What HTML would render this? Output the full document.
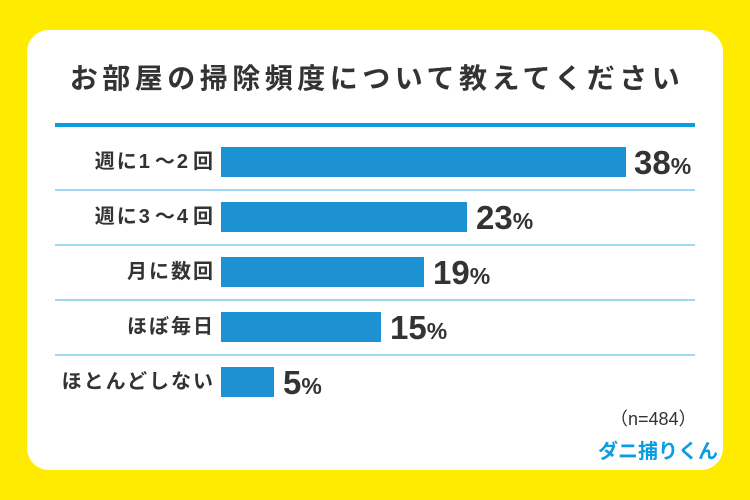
<!DOCTYPE html>
<html><head><meta charset="utf-8"><style>
body{margin:0;width:750px;height:500px;background:#FFEB00;position:relative;overflow:hidden;font-family:"Liberation Sans","Noto Sans CJK JP",sans-serif;}
.card{position:absolute;left:27px;top:30px;width:696px;height:440px;background:#fff;border-radius:22px;}
.t{position:absolute;left:2px;width:750px;top:57px;text-align:center;font-size:28px;font-weight:bold;color:#333;letter-spacing:4.5px;}
.top{position:absolute;left:55px;top:123px;width:640px;height:4px;background:#0a9de0;}
.sep{position:absolute;left:55px;width:640px;height:2px;background:#9dd9f5;}
.bar{position:absolute;left:221px;height:30px;background:#1d92d3;}
.lab{position:absolute;right:535px;font-size:20px;font-weight:bold;color:#333;line-height:30px;white-space:nowrap;letter-spacing:2px;}
.lab b{letter-spacing:5px;}
.v{position:absolute;font-size:33px;font-weight:bold;color:#333;line-height:30px;}
.v small{font-size:23px;}
</style></head><body>
<div class="card"></div>
<div class="t">お部屋の掃除頻度について教えてください</div>
<div class="top"></div>
<div class="sep" style="top:189px"></div>
<div class="sep" style="top:244px"></div>
<div class="sep" style="top:299px"></div>
<div class="sep" style="top:354px"></div>

<div class="lab" style="top:147px">週に<b>1</b>～<b>2</b>回</div>
<div class="bar" style="top:147px;width:405px"></div>
<div class="v" style="top:148px;left:634px">38<small>%</small></div>

<div class="lab" style="top:202px">週に<b>3</b>～<b>4</b>回</div>
<div class="bar" style="top:202px;width:246px"></div>
<div class="v" style="top:203px;left:476px">23<small>%</small></div>

<div class="lab" style="top:257px">月に数回</div>
<div class="bar" style="top:257px;width:203px"></div>
<div class="v" style="top:258px;left:433px">19<small>%</small></div>

<div class="lab" style="top:312px">ほぼ毎日</div>
<div class="bar" style="top:312px;width:160px"></div>
<div class="v" style="top:313px;left:390px">15<small>%</small></div>

<div class="lab" style="top:367px">ほとんどしない</div>
<div class="bar" style="top:367px;width:53px"></div>
<div class="v" style="top:368px;left:283px">5<small>%</small></div>

<div style="position:absolute;left:610px;top:405px;font-size:18px;color:#333;">（n=484）</div>
<div style="position:absolute;left:598px;top:435px;font-size:20px;font-weight:bold;color:#0a9de0;">ダニ捕りくん</div>
</body></html>
